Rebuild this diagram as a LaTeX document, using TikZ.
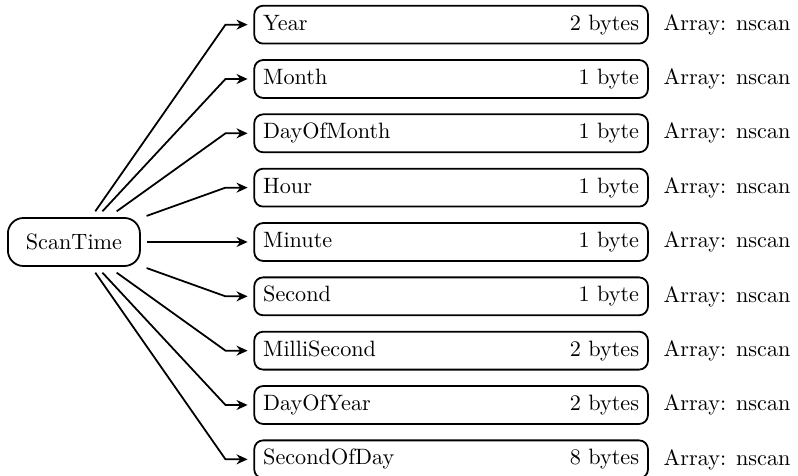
\documentclass[tikz,border=0pt]{standalone}
\usepackage{tikz}
\usetikzlibrary{arrows.meta,positioning}

\tikzset{
  fieldbox/.style={draw, thick, rounded corners=4pt, text width=5.95cm,
                   inner xsep=4pt, minimum height=0.6cm, align=left,
                   outer sep=3pt},
  rootbox/.style={draw, thick, rounded corners=7pt, minimum width=2.09cm,
                  minimum height=0.76cm, outer sep=3pt},
  link/.style={thick, -{Stealth[length=5pt,width=4.5pt]}}
}

\begin{document}
\begin{tikzpicture}
    \useasboundingbox (-1.17,-3.70) rectangle (11.46,3.83);
    \node[rootbox] (scantime) at (0,0) {ScanTime};
    \foreach \n/\s/\i in {Year/2 bytes/0, Month/1 byte/1,
                          DayOfMonth/1 byte/2, Hour/1 byte/3,
                          Minute/1 byte/4, Second/1 byte/5,
                          MilliSecond/2 bytes/6, DayOfYear/2 bytes/7,
                          SecondOfDay/8 bytes/8}{
      \node[fieldbox] (f\i) at (5.97, {(4-\i)*0.86}) {\n\hfill\s};
      \node[right=0.02cm of f\i] (a\i) {Array: nscan};
      \coordinate (e\i) at ([xshift=-0.35cm]f\i.west);
      \draw[link] (scantime) -- (e\i) -- (f\i);
    }
  \end{tikzpicture}
\end{document}
